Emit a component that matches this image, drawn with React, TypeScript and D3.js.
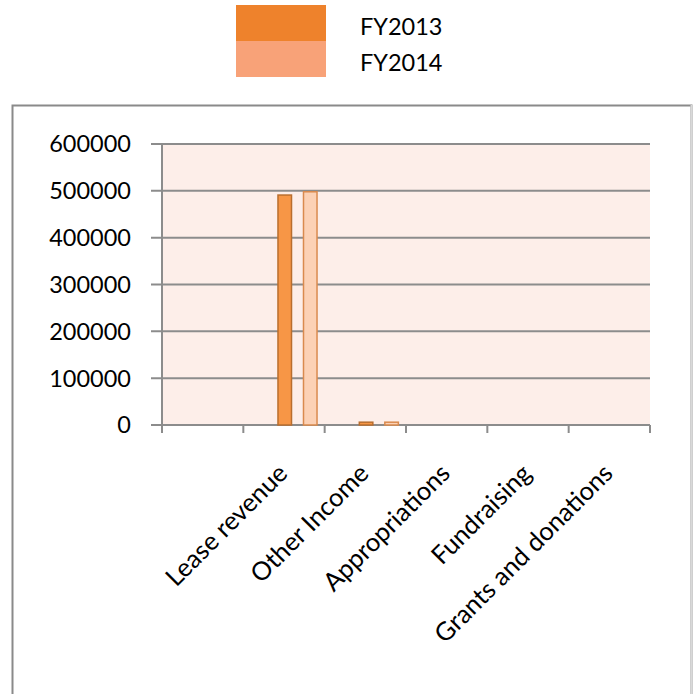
import React from "react";
import * as d3 from "d3";

const categories = ["", "Lease revenue", "Other Income", "Appropriations", "Fundraising", "Grants and donations"];
const seriesNames = ["FY2013", "FY2014"];
const fy2013 = [0, 491000, 6000, 0, 0, 0];
const fy2014 = [0, 498000, 6000, 0, 0, 0];
const yTicks = [0, 100000, 200000, 300000, 400000, 500000, 600000];

const legendColors = ["#EE822C", "#F8A278"];
const barFill = ["#F79646", "#FCD1B5"];
const barStroke = ["#B96E2E", "#DA8A4E"];

export default function App() {
  const W = 693, H = 694;
  const left = 162, right = 650, top = 144, bottom = 425;
  const font = "Lato, Carlito, Calibri, sans-serif";

  const x = d3.scaleBand<string>().domain(categories.map((c, i) => String(i))).range([left, right]).padding(0);
  const y = d3.scaleLinear().domain([0, 600000]).range([bottom, top]);
  const bw = x.bandwidth();
  const xs = d3.scaleBand<string>().domain(seriesNames).range([-bw * 0.074, bw * 0.406]).paddingInner(0.47).paddingOuter(0);
  const series = [fy2013, fy2014];

  return (
    <svg width={W} height={H} style={{ position: "absolute", left: 0, top: 0, background: "#fff" }} fontFamily={font}>
      {/* legend */}
      {seriesNames.map((s, i) => (
        <g key={s}>
          <rect x={236} y={5 + i * 36} width={90} height={36} fill={legendColors[i]} />
          <text x={360} y={35 + i * 35.7} fontSize={23.5} fill="#000">{s}</text>
        </g>
      ))}
      {/* outer box */}
      <path d={`M12.5,${H} V105.5 H691.5 V${H}`} fill="none" stroke="#8a8a8a" strokeWidth={2} />
      <line x1={691.5} y1={105} x2={691.5} y2={H} stroke="#d9d9d9" strokeWidth={2} />
      {/* plot bg */}
      <rect x={left} y={top} width={right - left} height={bottom - top} fill="#FDEEE9" />
      {/* gridlines & y ticks */}
      {yTicks.map((t) => (
        <g key={t}>
          <line x1={151} x2={right} y1={y(t)} y2={y(t)} stroke="#8c8c8c" strokeWidth={2} />
          <text x={131} y={y(t)} dy="0.36em" textAnchor="end" fontSize={23.5} fill="#000">{t}</text>
        </g>
      ))}
      {/* y axis */}
      <line x1={left} x2={left} y1={top} y2={bottom + 8} stroke="#8c8c8c" strokeWidth={2} />
      {/* x ticks */}
      {categories.map((c, i) => (
        <line key={"t" + i} x1={x(String(i))!} x2={x(String(i))!} y1={bottom} y2={bottom + 8} stroke="#8c8c8c" strokeWidth={2} />
      ))}
      <line x1={right} x2={right} y1={bottom} y2={bottom + 8} stroke="#8c8c8c" strokeWidth={2} />
      {/* bars */}
      {categories.map((c, i) =>
        series.map((vals, si) => {
          const v = vals[i];
          if (v <= 0) return null;
          const cx = x(String(i))! + bw / 2;
          const bx = cx + xs(seriesNames[si])!;
          return (
            <rect key={`b${i}-${si}`} x={bx} y={y(v)} width={xs.bandwidth()} height={bottom - y(v)}
              fill={barFill[si]} stroke={barStroke[si]} strokeWidth={1.5} />
          );
        })
      )}
      {/* x labels */}
      {categories.map((c, i) => {
        const cx = x(String(i))! + bw / 2;
        return (
          <text key={"l" + i} transform={`translate(${cx + 5},${bottom + 50}) rotate(-45)`} textAnchor="end" fontSize={25.5} fill="#000">{c}</text>
        );
      })}
    </svg>
  );
}
